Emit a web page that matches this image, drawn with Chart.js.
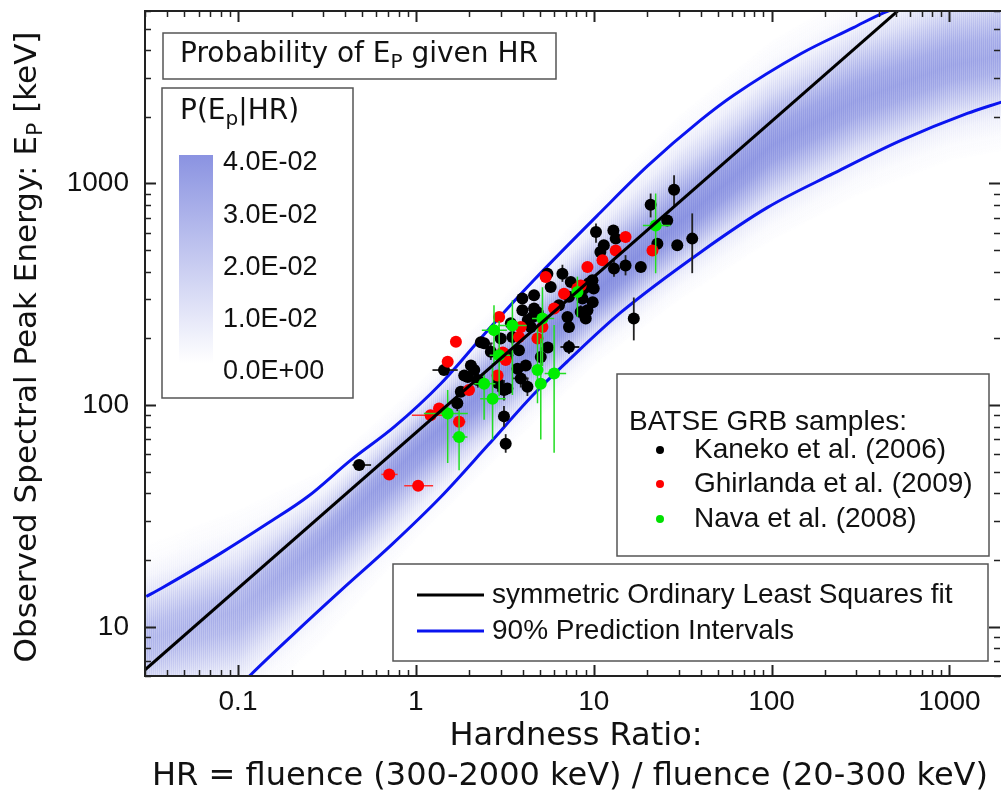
<!DOCTYPE html>
<html>
<head>
<meta charset="utf-8">
<script src="https://cdn.jsdelivr.net/npm/chart.js@4/dist/chart.umd.min.js"></script>
<style>
  html, body { margin: 0; padding: 0; background: #fff; }
  canvas { display: block; }
</style>
</head>
<body>
<canvas id="epChart" width="1001" height="798"></canvas>
<script>
// ---- data ----
const xDecades = [0.1, 1, 10, 100, 1000]
const xTickLabels = ['0.1', '1', '10', '100', '1000']
const yDecades = [10, 100, 1000]
const yTickLabels = ['10', '100', '1000']

// symmetric OLS fit (straight in log-log)
const fitHR = [0.03, 600]
const fitEp = [6.4, 6710]

// 90% prediction intervals
const upperHR = [0.0305, 0.0369, 0.0479, 0.0802, 0.147, 0.246, 0.431, 0.755, 1.38, 2.54, 4.60, 10.9, 20.1, 39.9, 61.2, 146, 289, 426, 690]
const upperEp = [13.7, 14.9, 16.8, 21.5, 29.3, 38.6, 56.5, 79.8, 125, 218, 366, 740, 1200, 1930, 2500, 3850, 5050, 5890, 6700]
const lowerHR = [0.104, 0.118, 0.206, 0.379, 0.724, 1.38, 2.54, 4.60, 7.14, 14.2, 39.9, 95.0, 223, 531, 1260, 1960]
const lowerEp = [5.48, 6.08, 9.3, 14.6, 23.3, 38.5, 65.9, 112, 158, 262, 490, 780, 1110, 1560, 2070, 2330]

// P(Ep|HR) band: ridge, fade-out edges and peak density per HR
const densityHR = [0.03, 0.1, 0.3, 1, 3, 10, 30, 100, 300, 1000, 2000]
const densityRidgeEp = [8.7, 11.9, 24.7, 62.7, 136, 320, 667, 1480, 2370, 3400, 3780]
const densityTopEp = [23.4, 33.6, 50.9, 123, 297, 838, 2020, 4410, 7400, 11200, 12400]
const densityBottomEp = [3.1, 3.8, 8.7, 24.7, 59.6, 151, 297, 553, 883, 1270, 1410]
const densityPeak = [0.022, 0.025, 0.030, 0.035, 0.038, 0.040, 0.038, 0.035, 0.032, 0.030, 0.028]
const colorbarLabels = ['4.0E-02', '3.0E-02', '2.0E-02', '1.0E-02', '0.0E+00']

// [HR, Ep, Ep low, Ep high, HR low, HR high]
const kaneko = [
  [0.48, 53.7, null, null, 0.44, 0.56],
  [1.44, 144, null, null, 1.24, 1.72],
  [1.71, 102, 94, 111, null, null],
  [1.79, 115, null, null, null, null],
  [1.87, 136, null, null, 1.75, 2.0],
  [1.96, 134, null, null, null, null],
  [2.04, 151, null, null, null, null],
  [2.13, 144, null, null, null, null],
  [2.23, 130, 120, 142, null, null],
  [2.32, 192, null, null, null, null],
  [2.42, 190, null, null, 2.2, 2.7],
  [2.64, 174, 160, 190, null, null],
  [2.89, 126, 115, 138, null, null],
  [3.00, 200, null, null, null, null],
  [3.13, 117, 105, 130, null, null],
  [3.13, 89, 80, 99, null, null],
  [3.20, 67, 61, 74, null, null],
  [3.27, 168, null, null, null, null],
  [3.27, 119, null, null, null, null],
  [3.42, 234, null, null, null, null],
  [3.49, 203, 188, 220, null, null],
  [3.73, 146, null, null, null, null],
  [3.80, 177, null, null, null, null],
  [3.89, 132, 120, 145, 3.5, 4.3],
  [3.97, 268, null, null, null, null],
  [3.97, 303, null, null, null, null],
  [4.15, 151, null, null, null, null],
  [4.24, 121, 110, 133, null, null],
  [4.26, 242, null, null, null, null],
  [4.43, 225, null, null, null, null],
  [4.53, 250, null, null, null, null],
  [4.62, 273, null, null, null, null],
  [4.62, 313, null, null, null, null],
  [4.85, 262, null, null, null, null],
  [5.04, 165, 150, 182, null, null],
  [5.49, 392, null, null, null, null],
  [5.52, 182, null, null, null, null],
  [5.73, 341, null, null, null, null],
  [6.38, 282, null, null, null, null],
  [6.67, 392, 360, 430, null, null],
  [7.12, 250, null, null, null, null],
  [7.26, 225, null, null, null, null],
  [7.26, 183, 170, 197, 6.5, 8.3],
  [7.26, 308, null, null, null, null],
  [7.43, 359, null, null, null, null],
  [8.45, 263, 245, 282, null, null],
  [8.64, 303, null, null, null, null],
  [8.83, 336, null, null, null, null],
  [9.02, 246, null, null, null, null],
  [9.22, 268, null, null, null, null],
  [9.38, 355, null, null, null, null],
  [9.84, 366, null, null, null, null],
  [9.87, 291, null, null, null, null],
  [10.0, 336, null, null, null, null],
  [10.3, 604, 540, 660, null, null],
  [10.9, 491, null, null, null, null],
  [11.4, 526, null, null, null, null],
  [12.9, 614, null, null, null, null],
  [13.0, 413, 380, 450, null, null],
  [13.3, 564, null, null, null, null],
  [15.1, 427, 385, 475, null, null],
  [16.8, 246, 196, 306, null, null],
  [18.4, 420, null, null, null, null],
  [20.9, 802, 703, 901, null, null],
  [22.8, 535, null, null, null, null],
  [25.9, 681, null, null, null, null],
  [28.3, 937, 780, 1090, null, null],
  [29.5, 526, null, null, null, null],
  [35.8, 564, 394, 733, null, null]
]

const ghirlanda = [
  [0.708, 48.7, null, null, 0.64, 0.79],
  [1.03, 43.3, null, null, 0.86, 1.25],
  [1.21, 90.1, null, null, 0.95, 1.45],
  [1.35, 96.6, null, null, null, null],
  [1.51, 157, null, null, null, null],
  [1.68, 193, null, null, null, null],
  [1.75, 84.1, null, null, 1.62, 1.90],
  [1.99, 117, null, null, null, null],
  [2.88, 136, null, null, null, null],
  [2.94, 250, null, null, null, null],
  [3.08, 173, null, null, null, null],
  [3.20, 160, null, null, null, null],
  [3.80, 203, null, null, null, null],
  [3.89, 225, null, null, null, null],
  [4.83, 200, null, null, null, null],
  [5.15, 225, null, null, null, null],
  [5.37, 379, null, null, null, null],
  [5.99, 273, null, null, null, null],
  [6.81, 318, null, null, null, null],
  [8.10, 336, null, null, null, null],
  [8.45, 347, null, null, null, null],
  [9.22, 420, null, null, null, null],
  [11.2, 450, null, null, null, null],
  [13.3, 499, null, null, null, null],
  [15.1, 573, null, null, null, null],
  [21.4, 499, null, null, null, null]
]

const nava = [
  [1.51, 91.8, 54.8, 117, 1.11, 1.96],
  [1.75, 71.9, 50.9, 94.8, 1.60, 1.95],
  [2.42, 125, 86, 141, 2.1, 2.8],
  [2.70, 107, 70, 155, 2.3, 3.2],
  [2.75, 218, 151, 282, 2.35, 3.25],
  [2.94, 168, 110, 240, 2.6, 3.4],
  [3.49, 229, 111, 297, 2.9, 4.2],
  [4.83, 144, 102, 230, null, null],
  [5.04, 125, 70, 200, null, null],
  [5.15, 246, 150, 340, 4.5, 6.0],
  [5.99, 139, 61, 230, 5.3, 7.0],
  [8.10, 324, 250, 380, null, null],
  [22.3, 647, 394, 901, 18.9, 27.0]
]

// ---- drawing ----
const FONT = '"Liberation Sans", Arial, sans-serif'
const TITLE_FONT = '"DejaVu Sans", sans-serif'
const densityRGB = '118, 128, 220'
const piBlue = '#0a14f0'

function interpLog(xs, ys, lx, logY = true) {
  let i = 0
  while (i < xs.length - 2 && Math.log10(xs[i + 1]) < lx) i++
  const x0 = Math.log10(xs[i]), x1 = Math.log10(xs[i + 1])
  const t = (lx - x0) / (x1 - x0)
  if (!logY) return ys[i] + t * (ys[i + 1] - ys[i])
  const y0 = Math.log10(ys[i]), y1 = Math.log10(ys[i + 1])
  return Math.pow(10, y0 + t * (y1 - y0))
}

function toPoints(hr, ep) {
  return hr.map((v, i) => ({ x: v, y: ep[i] }))
}

function mantissa(v) {
  return v / Math.pow(10, Math.floor(Math.log10(v) + 1e-9))
}
function isTick(v) {
  const m = mantissa(v)
  return Math.abs(m - Math.round(m)) < 1e-6
}
function isMajor(v) {
  return Math.abs(mantissa(v) - 1) < 1e-6
}

// text with subscript parts: [[text, isSub], ...]
function richWidth(ctx, parts, size, family) {
  let w = 0
  parts.forEach(([t, sub]) => {
    ctx.font = (sub ? Math.round(size * 0.72) : size) + 'px ' + family
    w += ctx.measureText(t).width
  })
  return w
}
function drawRich(ctx, parts, x, y, size, family) {
  ctx.textBaseline = 'middle'
  ctx.textAlign = 'left'
  parts.forEach(([t, sub]) => {
    ctx.font = (sub ? Math.round(size * 0.72) : size) + 'px ' + family
    ctx.fillText(t, x, sub ? y + size * 0.28 : y)
    x += ctx.measureText(t).width
  })
}

function box(ctx, x, y, w, h) {
  ctx.fillStyle = '#fff'
  ctx.fillRect(x, y, w, h)
  ctx.strokeStyle = '#555'
  ctx.lineWidth = 1.5
  ctx.strokeRect(x, y, w, h)
}

function clipArea(ctx, a) {
  ctx.beginPath()
  ctx.rect(a.left, a.top, a.right - a.left, a.bottom - a.top)
  ctx.clip()
}

const densityPlugin = {
  id: 'density',
  beforeDatasetsDraw(chart) {
    const { ctx, chartArea: a, scales: { x, y } } = chart
    ctx.save()
    clipArea(ctx, a)
    const step = 2
    for (let px = a.left; px < a.right; px += step) {
      const lx = Math.log10(x.getValueForPixel(px + step / 2))
      const top = y.getPixelForValue(interpLog(densityHR, densityTopEp, lx))
      const ridge = y.getPixelForValue(interpLog(densityHR, densityRidgeEp, lx))
      const bottom = y.getPixelForValue(interpLog(densityHR, densityBottomEp, lx))
      const peak = interpLog(densityHR, densityPeak, lx, false)
      const a0 = Math.min(1, peak / 0.04) * 0.85
      const f = (ridge - top) / (bottom - top)
      const g = ctx.createLinearGradient(0, top, 0, bottom)
      for (let k = 0; k <= 6; k++) {
        const u = k / 6
        g.addColorStop(f * u, 'rgba(' + densityRGB + ',' + (a0 * Math.exp(-4.5 * (1 - u) * (1 - u))).toFixed(3) + ')')
      }
      for (let k = 1; k <= 6; k++) {
        const u = k / 6
        g.addColorStop(f + (1 - f) * u, 'rgba(' + densityRGB + ',' + (a0 * Math.exp(-4.5 * u * u)).toFixed(3) + ')')
      }
      ctx.fillStyle = g
      ctx.fillRect(px, top, step + 0.5, bottom - top)
    }
    ctx.restore()
  }
}

const errorBarPlugin = {
  id: 'errorBars',
  beforeDatasetDraw(chart, args) {
    const ds = chart.data.datasets[args.index]
    if (!ds.errorBars) return
    const { ctx, chartArea: a, scales: { x, y } } = chart
    ctx.save()
    clipArea(ctx, a)
    ctx.strokeStyle = ds.errorColor
    ctx.lineWidth = ds.errorWidth
    ds.errorBars.forEach(p => {
      const px = x.getPixelForValue(p[0]), py = y.getPixelForValue(p[1])
      ctx.beginPath()
      if (p[2] != null) {
        ctx.moveTo(px, y.getPixelForValue(p[2]))
        ctx.lineTo(px, y.getPixelForValue(p[3]))
      }
      if (p[4] != null) {
        ctx.moveTo(x.getPixelForValue(p[4]), py)
        ctx.lineTo(x.getPixelForValue(p[5]), py)
      }
      ctx.stroke()
    })
    ctx.restore()
  }
}

const decorPlugin = {
  id: 'decor',
  afterDraw(chart) {
    const { ctx, chartArea: a, scales: { x, y } } = chart
    ctx.save()
    // frame + inward ticks on all four sides
    ctx.strokeStyle = '#222'
    ctx.lineWidth = 2
    ctx.strokeRect(a.left, a.top, a.right - a.left + 3, a.bottom - a.top)
    x.ticks.forEach(t => {
      if (!isTick(t.value)) return
      const px = Math.round(x.getPixelForValue(t.value)) + 0.5
      const len = isMajor(t.value) ? 11 : 6
      ctx.lineWidth = isMajor(t.value) ? 2 : 1.5
      ctx.beginPath()
      ctx.moveTo(px, a.bottom); ctx.lineTo(px, a.bottom - len)
      ctx.moveTo(px, a.top); ctx.lineTo(px, a.top + len)
      ctx.stroke()
    })
    y.ticks.forEach(t => {
      if (!isTick(t.value)) return
      const py = Math.round(y.getPixelForValue(t.value)) + 0.5
      const len = isMajor(t.value) ? 11 : 6
      ctx.lineWidth = isMajor(t.value) ? 2 : 1.5
      ctx.beginPath()
      ctx.moveTo(a.left, py); ctx.lineTo(a.left + len, py)
      ctx.moveTo(a.right - 1, py); ctx.lineTo(a.right - 1 - len, py)
      ctx.stroke()
    })

    ctx.fillStyle = '#111'
    // axis titles
    const yTitle = [['Observed Spectral Peak Energy: E', false], ['P', true], [' [keV]', false]]
    const yw = richWidth(ctx, yTitle, 31, TITLE_FONT)
    ctx.save()
    ctx.translate(28, 347)
    ctx.rotate(-Math.PI / 2)
    drawRich(ctx, yTitle, -yw / 2, 0, 31, TITLE_FONT)
    ctx.restore()
    ctx.font = '32px ' + TITLE_FONT
    ctx.textAlign = 'center'
    ctx.textBaseline = 'middle'
    ctx.fillText('Hardness Ratio:', 576, 737)
    ctx.fillText('HR = fluence (300-2000 keV) / fluence (20-300 keV)', 570, 777)

    // title box
    box(ctx, 163, 33, 393, 46)
    ctx.fillStyle = '#111'
    drawRich(ctx, [['Probability of E', false], ['P', true], [' given HR', false]], 180, 55, 28, TITLE_FONT)

    // colour bar box
    box(ctx, 162, 88, 191, 310)
    ctx.fillStyle = '#111'
    drawRich(ctx, [['P(E', false], ['p', true], ['|HR)', false]], 180, 112, 28, TITLE_FONT)
    const cg = ctx.createLinearGradient(0, 155, 0, 363)
    cg.addColorStop(0, 'rgba(' + densityRGB + ',0.85)')
    cg.addColorStop(1, 'rgba(' + densityRGB + ',0)')
    ctx.fillStyle = cg
    ctx.fillRect(179, 155, 34, 208)
    ctx.fillStyle = '#111'
    ctx.font = '27px ' + FONT
    ctx.textAlign = 'left'
    colorbarLabels.forEach((l, i) => ctx.fillText(l, 223, 163 + i * 52.2))

    // sample legend
    box(ctx, 617, 374, 372, 182)
    ctx.fillStyle = '#111'
    ctx.font = '28px ' + FONT
    ctx.textAlign = 'left'
    ctx.fillText('BATSE GRB samples:', 629, 422)
    const samples = [['Kaneko et al. (2006)', '#000', 450], ['Ghirlanda et al. (2009)', '#ff0000', 484], ['Nava et al. (2008)', '#00e000', 519]]
    samples.forEach(([label, color, yy]) => {
      ctx.fillStyle = color
      ctx.beginPath()
      ctx.arc(660, yy, 4, 0, Math.PI * 2)
      ctx.fill()
      ctx.fillStyle = '#111'
      ctx.fillText(label, 694, yy)
    })

    // line legend
    box(ctx, 393, 564, 595, 97)
    const lines = [['symmetric Ordinary Least Squares fit', '#000', 595], ['90% Prediction Intervals', piBlue, 631]]
    lines.forEach(([label, color, yy]) => {
      ctx.strokeStyle = color
      ctx.lineWidth = 3
      ctx.beginPath()
      ctx.moveTo(417, yy); ctx.lineTo(484, yy)
      ctx.stroke()
      ctx.fillStyle = '#111'
      ctx.fillText(label, 492, yy)
    })
    ctx.restore()
  }
}

function tickLabel(decades, labels) {
  return v => {
    const i = decades.findIndex(d => Math.abs(d - v) / d < 1e-6)
    return i >= 0 ? labels[i] : ''
  }
}

new Chart(document.getElementById('epChart'), {
  type: 'scatter',
  plugins: [densityPlugin, errorBarPlugin, decorPlugin],
  data: {
    datasets: [
      {
        type: 'line', label: 'fit', data: toPoints(fitHR, fitEp), order: 0,
        borderColor: '#000', borderWidth: 3, pointRadius: 0, showLine: true, fill: false
      },
      {
        label: 'Nava', data: nava.map(p => ({ x: p[0], y: p[1] })), order: 4,
        pointRadius: 6, pointBackgroundColor: '#00ee00', pointBorderWidth: 0,
        errorBars: nava, errorColor: '#22dd22', errorWidth: 1.5
      },
      {
        label: 'Ghirlanda', data: ghirlanda.map(p => ({ x: p[0], y: p[1] })), order: 5,
        pointRadius: 6, pointBackgroundColor: '#ff0000', pointBorderWidth: 0,
        errorBars: ghirlanda, errorColor: '#ff3030', errorWidth: 1.5
      },
      {
        label: 'Kaneko', data: kaneko.map(p => ({ x: p[0], y: p[1] })), order: 6,
        pointRadius: 6, pointBackgroundColor: '#000', pointBorderWidth: 0,
        errorBars: kaneko, errorColor: '#222', errorWidth: 1.8
      },
      {
        type: 'line', label: 'upper PI', data: toPoints(upperHR, upperEp), order: 8,
        borderColor: piBlue, borderWidth: 3, pointRadius: 0, cubicInterpolationMode: 'monotone', fill: false
      },
      {
        type: 'line', label: 'lower PI', data: toPoints(lowerHR, lowerEp), order: 8,
        borderColor: piBlue, borderWidth: 3, pointRadius: 0, cubicInterpolationMode: 'monotone', fill: false
      }
    ]
  },
  options: {
    responsive: false,
    animation: false,
    devicePixelRatio: 1,
    layout: { autoPadding: false, padding: { top: 11, right: 0, left: 0, bottom: 0 } },
    plugins: {
      legend: { display: false },
      tooltip: { enabled: false }
    },
    scales: {
      x: {
        type: 'logarithmic', min: 0.03, max: 1950,
        grid: { display: false, drawTicks: false },
        border: { display: false },
        ticks: {
          autoSkip: false, maxRotation: 0, padding: 9, color: '#111',
          font: { family: FONT, size: 28 },
          callback: tickLabel(xDecades, xTickLabels)
        },
        afterFit: s => { s.height = 122; s.paddingLeft = 0; s.paddingRight = 0 }
      },
      y: {
        type: 'logarithmic', min: 6, max: 6000,
        grid: { display: false, drawTicks: false },
        border: { display: false },
        ticks: {
          autoSkip: false, padding: 16, color: '#111',
          font: { family: FONT, size: 28 },
          callback: tickLabel(yDecades, yTickLabels)
        },
        afterFit: s => { s.width = 145; s.paddingTop = 0; s.paddingBottom = 0 }
      }
    }
  }
})
</script>
</body>
</html>
